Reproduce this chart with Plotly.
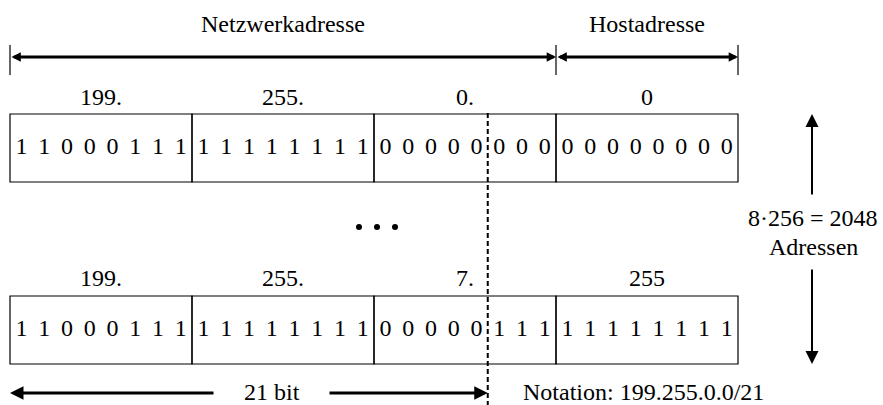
import plotly.graph_objects as go

# ---- data ----
octets_first = [199, 255, 0, 0]
octets_last = [199, 255, 7, 255]
prefix_len = 21
host_start_bit = 24
total_bits = 32
label_network = "Netzwerkadresse"
label_host = "Hostadresse"
label_count = ["8·256 = 2048", "Adressen"]
label_prefix = f"{prefix_len} bit"
label_notation = "Notation: " + ".".join(str(o) for o in octets_first) + f"/{prefix_len}"

FONT = dict(family="Liberation Serif, Times New Roman, serif", size=24, color="black")

# pixel layout helpers (x in bit units, y in pixels from top)
W, H = 883, 405
BIT_PX = 22.75
LEFT_PX = 10.0
def bx(px):
    return (px - LEFT_PX) / BIT_PX

rows = [
    dict(octets=octets_first, label_y=99, bit_y=148, top=114, bot=182),
    dict(octets=octets_last, label_y=280, bit_y=330, top=296, bot=364),
]

fig = go.Figure()
shapes = []
annotations = []

for r in rows:
    bits = "".join(format(o, "08b") for o in r["octets"])
    fig.add_trace(go.Scatter(
        x=[i + 0.5 for i in range(total_bits)], y=[r["bit_y"]] * total_bits,
        mode="text", text=list(bits), textfont=FONT, textposition="middle center",
        hoverinfo="skip", showlegend=False))
    labels = [f"{o}." for o in r["octets"][:3]] + [str(r["octets"][3])]
    fig.add_trace(go.Scatter(
        x=[8 * i + 4 for i in range(4)], y=[r["label_y"]] * 4,
        mode="text", text=labels, textfont=FONT, textposition="middle center",
        hoverinfo="skip", showlegend=False))
    for i in range(4):
        shapes.append(dict(type="rect", xref="x", yref="y", x0=8 * i, x1=8 * (i + 1),
                           y0=r["top"], y1=r["bot"], line=dict(color="black", width=1.2)))

# dashed prefix line
shapes.append(dict(type="line", xref="x", yref="y", x0=prefix_len, x1=prefix_len,
                   y0=113, y1=405, line=dict(color="black", width=2, dash="5px,3px")))

# top ticks
for xb in [0, host_start_bit, total_bits]:
    shapes.append(dict(type="line", xref="x", yref="y", x0=xb, x1=xb, y0=45, y1=75,
                       line=dict(color="black", width=1.2)))

def arrow(x_tip, y_tip, x_tail, y_tail, width, size, both=False):
    annotations.append(dict(
        x=x_tip, y=y_tip, ax=x_tail, ay=y_tail, xref="x", yref="y", axref="x", ayref="y",
        text="", showarrow=True, arrowhead=2, arrowsize=size, arrowwidth=width,
        startarrowhead=2, startarrowsize=size,
        arrowside="end+start" if both else "end", arrowcolor="black", standoff=0, startstandoff=0))

# top double arrows
arrow(host_start_bit, 57, 0, 57, 3, 0.62, both=True)
arrow(total_bits, 57, host_start_bit, 57, 3, 0.62, both=True)

# vertical arrows (address range)
xv = bx(812)
arrow(xv, 114, xv, 196, 2, 1.3)
arrow(xv, 364, xv, 268, 2, 1.3)

# bottom arrows around "21 bit"
arrow(0, 393, bx(215), 393, 3, 0.9)
arrow(prefix_len, 393, bx(328), 393, 3, 0.9)

# texts
def text(x, y, s):
    annotations.append(dict(x=x, y=y, xref="x", yref="y", text=s, showarrow=False,
                            font=FONT, xanchor="center", yanchor="middle"))

text(host_start_bit / 2, 24, label_network)
text((host_start_bit + total_bits) / 2, 24, label_host)
text(bx(813), 218, label_count[0])
text(bx(813), 247, label_count[1])
text(bx(271.5), 392, label_prefix)
text(bx(643), 392, label_notation)

# ellipsis dots
fig.add_trace(go.Scatter(
    x=[bx(359), bx(377), bx(395)], y=[227, 227, 227], mode="markers",
    marker=dict(color="black", size=6), hoverinfo="skip", showlegend=False))

fig.update_layout(
    width=W, height=H, margin=dict(l=0, r=0, t=0, b=0),
    paper_bgcolor="white", plot_bgcolor="white",
    xaxis=dict(range=[bx(0), bx(W)], visible=False, fixedrange=True),
    yaxis=dict(range=[H, 0], visible=False, fixedrange=True),
    shapes=shapes, annotations=annotations, hovermode=False, showlegend=False,
)

fig.write_html("out.html", config={"displayModeBar": False},
               post_script="document.body.style.margin='0';document.body.style.overflow='hidden';")
